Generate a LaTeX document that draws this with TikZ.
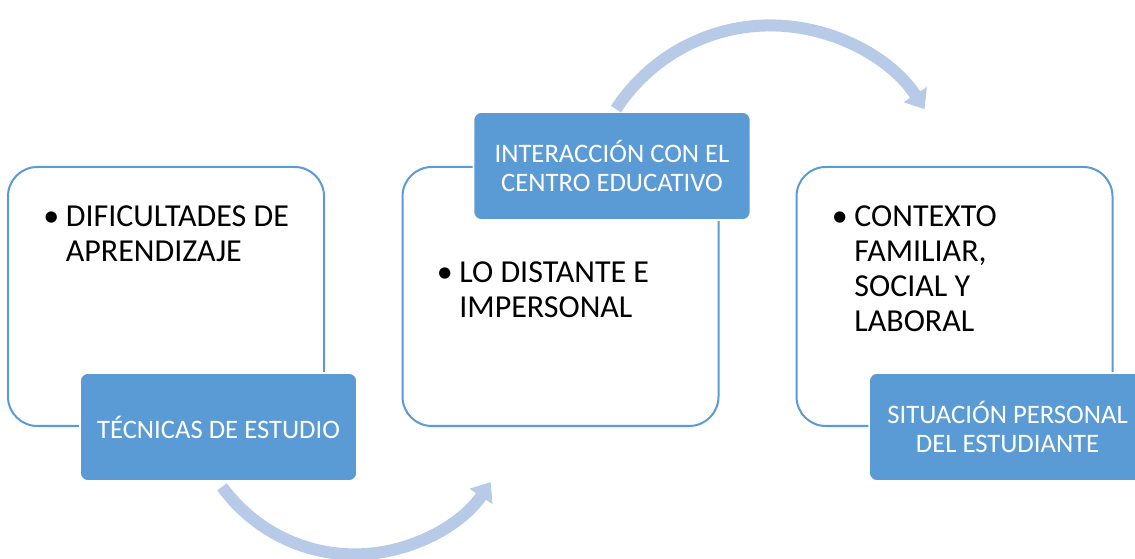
\documentclass[tikz,border=0pt]{standalone}
\usepackage{fontspec}
\setmainfont{Carlito}
\usepackage{tikz}
\usetikzlibrary{arrows.meta}
\usetikzlibrary{positioning}
\definecolor{mainblue}{RGB}{91,155,213}
\definecolor{paleblue}{RGB}{183,203,232}
\newcommand{\bulletlist}[1]{\begin{tabular}[t]{@{}l@{\hspace{5pt}}l@{}}\textbullet & #1\end{tabular}}

\begin{document}
\begin{tikzpicture}[x=0.75pt, y=-0.75pt,
        outer/.style={draw=mainblue, line width=1.5pt, rounded corners=22pt,
            minimum width=237pt, minimum height=194.25pt, inner sep=0pt},
        tag/.style={fill=mainblue, draw=white, line width=1.2pt, rounded corners=6pt,
            minimum width=207.75pt, minimum height=81pt, inner sep=0pt,
            text=white, align=center, font=\fontsize{20}{21.75}\selectfont},
        item/.style={anchor=base west, inner sep=0pt,
            font=\fontsize{24}{26.25}\selectfont},
        flow/.style={draw=paleblue, line width=9pt, -{Triangle[length=13pt, width=20pt]}}]
        \useasboundingbox (0,0) rectangle (1135,559);
        \foreach \name/\x in {dif/166, dis/560.5, con/954.5}
        {
            \node[outer] (\name) at (\x, 296.5) {};
        }
        \node[tag, xshift=39.4pt] (tec) at (dif.south) {TÉCNICAS DE ESTUDIO};
        \node[tag, xshift=38.6pt] (int) at (dis.north) {INTERACCIÓN CON EL\\CENTRO EDUCATIVO};
        \node[tag, xshift=39.8pt] (sit) at (con.south) {SITUACIÓN PERSONAL\\DEL ESTUDIANTE};
        \node[item] (apr) at ([shift={(36,61)}]dif.north west)
            {\bulletlist{DIFICULTADES DE\\ & APRENDIZAJE}};
        \node[item] (imp) at ([shift={(35,117)}]dis.north west)
            {\bulletlist{LO DISTANTE E\\ & IMPERSONAL}};
        \node[item] (fam) at ([shift={(36,61)}]con.north west)
            {\bulletlist{CONTEXTO\\ & FAMILIAR,\\ & SOCIAL Y\\ & LABORAL}};
        \draw[flow] ([shift={(3.5,5)}]tec.south) arc[start angle=144, end angle=34, radius=164];
        \draw[flow] ([shift={(4,-2)}]int.north) arc[start angle=213, end angle=327, radius=184];
    \end{tikzpicture}
\end{document}
